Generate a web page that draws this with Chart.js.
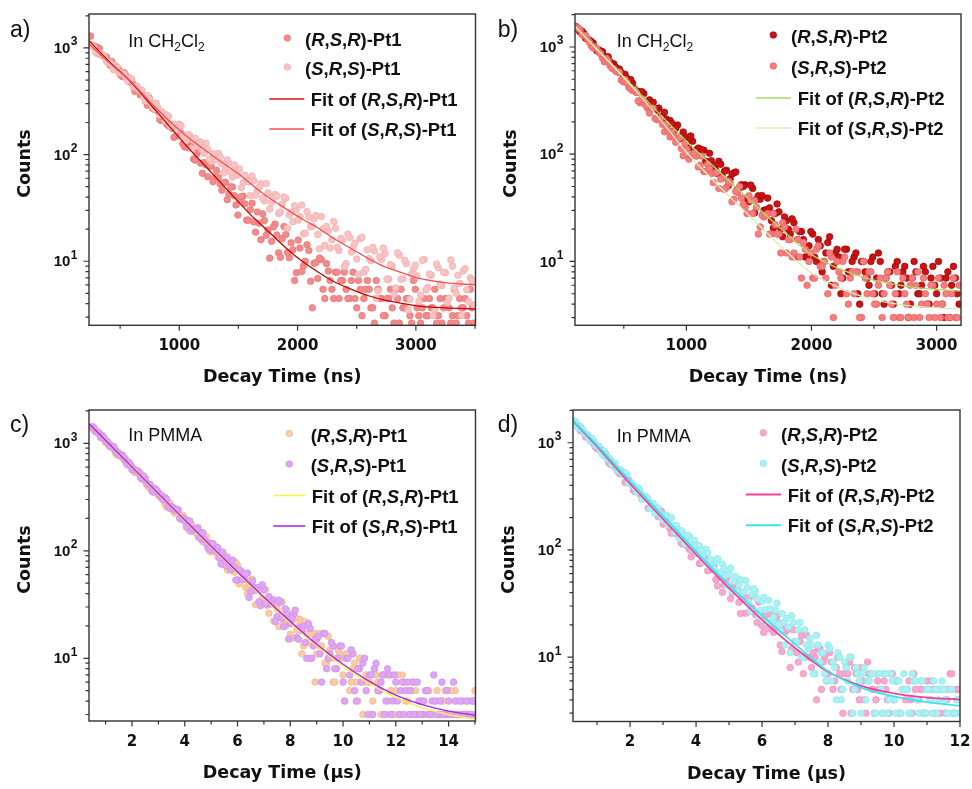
<!DOCTYPE html>
<html>
<head>
<meta charset="utf-8">
<script src="https://cdn.jsdelivr.net/npm/chart.js@4.4.1/dist/chart.umd.min.js"></script>
<style>
  body { margin: 0; background: #fff; }
  #wrap { position: relative; width: 972px; height: 789px; background: #fff; }
  canvas { position: absolute; }
</style>
</head>
<body>
<div id="wrap">
  <canvas id="chartA" width="486" height="395" style="left:0;top:0"></canvas>
  <canvas id="chartB" width="486" height="395" style="left:486px;top:0"></canvas>
  <canvas id="chartC" width="486" height="394" style="left:0;top:395px"></canvas>
  <canvas id="chartD" width="486" height="394" style="left:486px;top:395px"></canvas>
</div>
<script>
// ---- panel a: Pt1 in CH2Cl2 (ns) ----
const tA = [250,280,310,340,370,400,430,460,490,520,550,580,610,640,670,700,730,760,790,820,
  850,880,910,940,970,1000,1030,1060,1090,1120,1150,1180,1210,1240,1270,1300,1330,1360,1390,1420,
  1450,1480,1510,1540,1570,1600,1630,1660,1690,1720,1750,1780,1810,1840,1870,1900,1930,1960,1990,2020,
  2050,2080,2110,2140,2170,2200,2230,2260,2290,2320,2350,2380,2410,2440,2470,2500,2530,2560,2590,2620,
  2650,2680,2710,2740,2770,2800,2830,2860,2890,2920,2950,2980,3010,3040,3070,3100,3130,3160,3190,3220,
  3250,3280,3310,3340,3370,3400,3430,3460,3490];
const rsrA = [1290,1040,1006,864,830,741,747,652,623,538,549,481,453,436,362,356,290,306,266,254,
  208,225,185,176,148,157,126,125,129,91,102,83,84,62,78,61,61,46.4,55,42.8,
  49.7,33.7,37.4,40.7,24.3,30.4,23.4,29,15.9,24.1,19.6,15.4,22.3,12,16.3,17.8,10.8,12.8,7.8,13.3,
  9.0,14.3,6.5,9.6,6.9,10.4,4.47,8.1,5.46,7.9,4.47,6.6,5.46,4.47,7.9,3.66,5.46,4.47,6.6,3.66,
  2.63,5.46,4.47,3.09,4.47,3.66,5.46,2.63,3.66,4.47,3.09,6.6,3.66,2.63,4.47,3.09,3.66,5.46,3.09,2.63,
  4.47,3.66,3.09,2.63,4.47,3.66,3.09,5.46,2.63];
const srsA = [1080,1013,879,859,818,724,690,683,584,577,524,522,427,436,395,346,357,303,267,274,
  253,208,228,192,186,193,152,136,150,136,120,131,103,112,86,97.9,103,82.2,74.6,83.9,
  61.8,72.1,73.4,54.6,58,41.4,56.9,45.9,53.3,36.8,43.8,35.5,42.2,28,34.4,38.9,27,23.5,30.6,26.2,
  18.1,29.2,21,25.1,17.8,26.3,14.1,19.2,15.9,20.4,12.6,15.7,9.5,16.7,13.5,10.5,16.3,7.9,12.8,10.1,
  12.5,5.3,10.4,11.8,6.8,9.0,5.6,11.4,6.9,9.5,4.4,8.5,7.3,4.8,10.4,5.7,7.4,3.5,8.7,5.9,
  7.8,4.5,9.0,5.0,6.2,8.1,5.4,7.0,3.9];
const tA2 = [265,295,325,355,385,415,445,475,505,535,565,595,625,655,685,715,745,775,805,835,
  865,895,925,955,985,1015,1045,1075,1105,1135,1165,1195,1225,1255,1285,1315,1345,1375,1405,1435,
  1465,1495,1525,1555,1585,1615,1645,1675,1705,1735,1765,1795,1825,1855,1885,1915,1945,1975,2005,2035,
  2065,2095,2125,2155,2185,2215,2245,2275,2305,2335,2365,2395,2425,2455,2485,2515,2545,2575,2605,2635,
  2665,2695,2725,2755,2785,2815,2845,2875,2905,2935,2965,2995,3025,3055,3085,3115,3145,3175,3205,3235,
  3265,3295,3325,3355,3385,3415,3445,3475];
const rsrA2 = [1056,1021,987,839,820,687,685,654,558,586,504,496,391,406,363,316,341,271,266,213,
  234,192,193,145,154,159,118,116,119,88.6,109.6,66.9,80.4,77.6,55.6,71.1,53.1,54.5,37.8,49.8,
  41.2,27.1,40.4,34.6,24.3,35,18.7,22.8,27.8,17.5,10.7,21,17.6,10.9,21.2,12.1,14.9,6.6,15.8,8.0,
  10,12.6,3.66,9.7,10.7,5.46,9.5,6.6,4.47,7.9,6.6,7.9,4.47,6.6,4.47,6.6,3.09,5.46,5.46,3.66,
  6.6,4.47,3.09,4.47,5.46,2.63,4.47,5.46,3.66,4.47,2.63,5.46,3.09,3.66,3.09,4.47,3.66,2.63,4.47,3.66,
  4.47,2.63,5.46,3.09,3.66,4.47,2.63,3.66];
const srsA2 = [1051,909,890,860,747,730,623,656,583,567,491,515,433,407,401,318,332,282,305,235,
  242,235,184,193,171,186,144,154,114,142,125,111,128,90,102,89,95.5,67.2,89.5,68.4,
  79.8,64.2,48.9,64.1,55.7,62.9,41.6,49.4,39,53.5,30.9,39.5,40.7,29,40,20.4,29,33.1,24.3,33.6,
  18.3,26,21.3,26.8,13.1,20.1,21.2,13.3,23.6,13.5,16.4,8.9,18,12.2,14.8,7.5,16.8,8.4,10.6,13.5,
  4.5,11,13.3,6.8,9.3,4.9,12,6.8,10.2,3.5,7.6,9.2,4.2,10.2,5.4,7.6,3.09,9.4,6.1,7.9,
  4.1,10.3,5.6,7.4,3.1,8.5,4.2,6.6];
const fitTA_R = [237,400,577,800,1057,1250,1423,1600,1733,1900,2014,2183,2300,2466,2600,2747,2900,3029,3250,3504];
const fitA_R = [1170,760,497,260,122,72,44.6,27.5,20,13.4,10.5,7.8,6.5,5.4,4.75,4.3,4.0,3.8,3.66,3.58];
const fitTA_S = [237,400,577,800,1057,1200,1338,1500,1620,1750,1902,2050,2183,2300,2466,2600,2747,2900,3029,3250,3504];
const fitA_S = [1090,740,500,275,150,114,88,66,51.5,40,31,24.5,20.2,16.5,12.9,10.6,8.8,7.7,6.9,6.3,6.0];

// ---- panel b: Pt2 in CH2Cl2 (ns) ----
const tB = [120,150,180,210,240,270,300,330,360,390,420,450,480,510,540,570,600,630,660,690,
  720,750,780,810,840,870,900,930,960,990,1020,1050,1080,1110,1140,1170,1200,1230,1260,1290,
  1320,1350,1380,1410,1440,1470,1500,1530,1560,1590,1620,1650,1680,1710,1740,1770,1800,1830,1860,1890,
  1920,1950,1980,2010,2040,2070,2100,2130,2160,2190,2220,2250,2280,2310,2340,2370,2400,2430,2460,2490,
  2520,2550,2580,2610,2640,2670,2700,2730,2760,2790,2820,2850,2880,2910,2940,2970,3000,3030,3060,3090,
  3120,3150,3180];
const rsrB = [1546,1380,1338,1185,1121,976,940,904,775,727,696,594,577,555,473,460,382,378,367,307,
  304,269,269,216,213,206,165,187,148,145,114,132,110,112,109,84,87,74,86,61,
  71,59,67,47,52,52,36,48,38,38,30,39,24,28,29,17,24,18,23,16,
  19,11,14,18,10,14,10,15,6,12,11,7,13,8,11,5,10,8,6,11,
  7,10,4,8,6,9,5,8,7,4,10,5,6,8,4,9,5,7,3,8,
  6,7,4];
const srsB = [1517,1444,1277,1189,1027,1002,895,789,783,669,627,583,492,498,421,393,376,301,309,268,
  267,216,214,189,190,145,147,139,113,126,90,98,96,79,69,80,66,67,48,60,
  49,54,38,44,39,32,41,28,32,21,26,28,18,22,18,23,12,16,12,16,
  7,13,10,7,13,9,10,5,11,6,8,10,5,7,5,8,3,7,8,5,
  4,7,5,8,4,5,3,7,4,6,3,8,4,5,3,6,4,3,6,3,
  5,3,6];
const tB2 = [135,165,195,225,255,285,315,345,375,405,435,465,495,525,555,585,615,645,675,705,
  735,765,795,825,855,885,915,945,975,1005,1035,1065,1095,1125,1155,1185,1215,1245,1275,1305,
  1335,1365,1395,1425,1455,1485,1515,1545,1575,1605,1635,1665,1695,1725,1755,1785,1815,1845,1875,1905,
  1935,1965,1995,2025,2055,2085,2115,2145,2175,2205,2235,2265,2295,2325,2355,2385,2415,2445,2475,2505,
  2535,2565,2595,2625,2655,2685,2715,2745,2775,2805,2835,2865,2895,2925,2955,2985,3015,3045,3075,3105,
  3135,3165];
const rsrB2 = [1450,1405,1204,1160,1087,920,915,821,810,679,645,622,513,510,497,408,386,383,298,321,
  305,257,224,246,194,194,175,139,161,129,148,104,114,110,86,102,78.9,66.5,80.5,69.5,
  50.9,65.4,68.3,48.5,50,39,51.5,28.4,41,41.2,30.3,31.6,20.5,34.4,20,26,20,25,11,19,
  16,11,19,11,16,8,12,17,9,13,5,13,8,10,12,4,10,7,10,5,
  12,5,7,8,4,10,6,9,3,7,8,5,9,4,7,6,10,4,7,3,
  9,5];
const srsB2 = [1498,1306,1281,1111,980,962,865,727,742,632,595,580,474,462,404,401,314,327,286,242,
  269,210,214,162,168,161,129,142,97,111,96.7,103,76.1,96.1,69,72.9,54.4,67.7,58.5,47,
  56,36,45,50,34,28,37,37,18,27,27,18,28,18,12,21,16,11,20,11,
  15,6,12,7,14,9,7,12,3,10,7,11,4,8,8,3,10,5,8,4,
  6,3,7,6,3,8,3,5,3,7,6,3,7,4,6,3,7,4,5,3,
  7,3];
const fitTB = [110,250,400,600,800,1000,1250,1500,1750,2000,2250,2500,2750,3000,3200];
const fitB_R = [1560,1058,697,400,229,132,71,38,20.5,11.6,8.3,6.7,5.9,5.5,5.3];
const fitB_S = [1560,1050,690,385,205,105,52,27,14,7.8,5.5,4.4,3.9,3.7,3.6];

// ---- panel c: Pt1 in PMMA (us) ----
const tC = [0.5,0.625,0.75,0.875,1,1.125,1.25,1.375,1.5,1.625,1.75,1.875,2,2.125,2.25,2.375,2.5,2.625,2.75,2.875,
  3,3.125,3.25,3.375,3.5,3.625,3.75,3.875,4,4.125,4.25,4.375,4.5,4.625,4.75,4.875,5,5.125,5.25,5.375,
  5.5,5.625,5.75,5.875,6,6.125,6.25,6.375,6.5,6.625,6.75,6.875,7,7.125,7.25,7.375,7.5,7.625,7.75,7.875,
  8,8.125,8.25,8.375,8.5,8.625,8.75,8.875,9,9.125,9.25,9.375,9.5,9.625,9.75,9.875,10,10.125,10.25,10.375,
  10.5,10.625,10.75,10.875,11,11.125,11.25,11.375,11.5,11.625,11.75,11.875,12,12.125,12.25,12.375,12.5,12.625,12.75,12.875,
  13,13.125,13.25,13.375,13.5,13.625,13.75,13.875,14,14.125,14.25,14.375,14.5,14.625,14.75,14.875,15];
const rsrC = [1374,1315,1249,1117,1017,996,916,807,815,732,718,622,601,532,549,475,461,391,389,375,
  327,331,272,278,252,223,237,198,198,160,177,157,135,149,122,121,97.6,111.6,87.8,89,
  86.6,66,78,63.2,73,52.5,54.6,39.7,53.7,42.4,44,32.5,43.2,31.1,35.7,22.2,28.9,25.6,21,27.7,
  16.7,23,18.3,23,13,17,10,17,11,13,17,9,12,6,10,11,7,11,5,8,
  6,10,3,7,6,4,7,5,7,3,7,3,5,3,7,4,5,3,5,3,
  4,3,5,3,4,3,4,5,3,3,5,3,3,3,4,3,5];
const srsC = [1429,1280,1229,1179,1047,952,940,859,780,780,686,666,568,565,534,467,471,417,361,379,
  347,307,313,258,258,237,240,196,189,191,152,161,164,128,127,107,117,100,107,75.4,
  85,86,66.5,70,53.5,65,54.2,62,41.6,45.9,45.5,30.8,43.7,31.9,32,34.9,24.4,33,19.7,25.5,
  21,25.8,15.7,19.4,19.9,10,19,13,15,11,17,8,11,13,8,13,6,10,7,11,
  4,8,9,5,7,3,9,5,7,4,7,4,6,3,6,5,3,6,3,4,
  3,5,3,4,4,3,6,3,4,3,4,3,4,3,3,4,3];
const tC2 = [0.5625,0.6875,0.8125,0.9375,1.0625,1.1875,1.3125,1.4375,1.5625,1.6875,
  1.8125,1.9375,2.0625,2.1875,2.3125,2.4375,2.5625,2.6875,2.8125,2.9375,
  3.0625,3.1875,3.3125,3.4375,3.5625,3.6875,3.8125,3.9375,4.0625,4.1875,
  4.3125,4.4375,4.5625,4.6875,4.8125,4.9375,5.0625,5.1875,5.3125,5.4375,
  5.5625,5.6875,5.8125,5.9375,6.0625,6.1875,6.3125,6.4375,6.5625,6.6875,
  6.8125,6.9375,7.0625,7.1875,7.3125,7.4375,7.5625,7.6875,7.8125,7.9375,
  8.0625,8.1875,8.3125,8.4375,8.5625,8.6875,8.8125,8.9375,9.0625,9.1875,
  9.3125,9.4375,9.5625,9.6875,9.8125,9.9375,10.0625,10.1875,10.3125,10.4375,
  10.5625,10.6875,10.8125,10.9375,11.0625,11.1875,11.3125,11.4375,11.5625,11.6875,
  11.8125,11.9375,12.0625,12.1875,12.3125,12.4375,12.5625,12.6875,12.8125,12.9375,
  13.0625,13.1875,13.3125,13.4375,13.5625,13.6875,13.8125,13.9375,14.0625,14.1875,
  14.3125,14.4375,14.5625,14.6875,14.8125,14.9375];
const rsrC2 = [1330,1276,1127,1095,1045,919,877,777,776,710,644,636,548,538,525,456,411,411,350,364,
  323,309,256,278,236,237,200,214,186,154,164,147,149,121,135,100,108,104.7,86.6,74.5,
  88.8,68.7,70.3,77.6,49.1,61.7,45.6,48.8,54.3,31.5,43.7,35.7,43.7,26.2,32.2,32.9,19.7,33.6,20,22.4,
  15.3,24,20,11,22,14,17,6,17,13,9,16,10,6,12,10,4,11,6,9,
  4,10,6,6,3,8,6,3,7,4,5,3,7,3,6,4,3,6,3,4,
  3,5,3,3,5,3,4,3,5,3,4,3,3,4,3,4];
const srsC2 = [1383,1256,1141,1128,1029,931,926,814,769,742,636,633,574,558,482,497,422,411,352,365,
  330,296,302,248,252,243,201,202,167,189,160,157,132,147,118,103,116.7,98.5,85.5,97.4,
  72.6,77.6,82,53.5,66.2,54.8,61.5,36.7,52.4,43.1,33.6,48.3,32.5,37.6,32.4,22,34.7,23.4,28.9,15.1,
  23.6,28,15,18,14,21,10,15,16,6,17,10,14,8,10,13,4,10,12,5,
  8,6,10,3,7,8,5,6,3,8,3,7,4,5,3,6,5,3,6,3,
  4,5,3,7,3,4,3,5,3,6,3,4,3,4,3,4];
const fitTC = [0.38,1,2,3,4,5,6,7,8,9,10,11,12,13,14,15];
const fitC_R = [1500,1050,594,336,190,108,62,36,21.3,13,8.4,5.8,4.3,3.45,3.0,2.72];
const fitC_S = [1510,1060,600,340,193,110,63.5,37,22,13.5,8.8,6.1,4.55,3.7,3.23,2.95];

// ---- panel d: Pt2 in PMMA (us) ----
const tD = [0.3,0.4,0.5,0.6,0.7,0.8,0.9,1.0,1.1,1.2,1.3,1.4,1.5,1.6,1.7,1.8,1.9,2.0,2.1,2.2,
  2.3,2.4,2.5,2.6,2.7,2.8,2.9,3.0,3.1,3.2,3.3,3.4,3.5,3.6,3.7,3.8,3.9,4.0,4.1,4.2,
  4.3,4.4,4.5,4.6,4.7,4.8,4.9,5.0,5.1,5.2,5.3,5.4,5.5,5.6,5.7,5.8,5.9,6.0,6.1,6.2,
  6.3,6.4,6.5,6.6,6.7,6.8,6.9,7.0,7.1,7.2,7.3,7.4,7.5,7.6,7.7,7.8,7.9,8.0,8.1,8.2,
  8.3,8.4,8.5,8.6,8.7,8.8,8.9,9.0,9.1,9.2,9.3,9.4,9.5,9.6,9.7,9.8,9.9,10.0,10.1,10.2,
  10.3,10.4,10.5,10.6,10.7,10.8,10.9,11.0,11.1,11.2,11.3,11.4,11.5,11.6,11.7,11.8,11.9,12.0];
const rsrD = [1544,1473,1295,1245,1183,1037,977,877,877,768,729,628,629,568,512,507,431,423,361,374,
  334,301,306,247,253,224,213,174,195,159,164,141,138,113,130,101,98,97.7,74.5,80.5,
  80.9,64.7,73.7,52.8,55.5,40.2,51.5,46,40.1,45.2,32.5,37.4,25.7,35,28.8,25,32.6,19.6,24,18.4,
  24.9,18.4,20.6,11.3,17.2,18.2,11.9,14,9,16,10,13,8,10,12,5,10,7,9,6,
  10,5,7,7,3,8,5,8,4,9,7,3,6,5,6,4,7,4,6,3,
  5,5,4,7,4,5,3,6,4,5,5,3,5,4,7,3,5,4];
const srsD = [1600,1440,1408,1249,1189,1035,1032,928,841,840,708,695,635,553,562,497,504,415,405,346,
  361,307,305,243,272,230,220,191,212,172,168,169,128,143,124,133,101,112,109,88,
  101.5,70.7,78.7,78,60.6,73.9,57.6,59.5,41.3,56.2,47.2,39.6,51.7,32.6,38.4,41,24.5,33.3,27.6,33.9,
  21.2,27.4,20.2,25.5,13,19.1,24.4,14,18,10,18,12,13,7,13,11,7,13,6,8,
  11,4,9,6,10,5,7,3,8,6,7,3,7,5,7,3,7,4,6,3,
  7,5,3,6,4,6,3,5,4,6,3,5,5,3,5,3,4,3];
const tD2 = [0.35,0.45,0.55,0.65,0.75,0.85,0.95,1.05,1.15,1.25,1.35,1.45,1.55,1.65,1.75,1.85,1.95,2.05,2.15,2.25,
  2.35,2.45,2.55,2.65,2.75,2.85,2.95,3.05,3.15,3.25,3.35,3.45,3.55,3.65,3.75,3.85,3.95,4.05,4.15,4.25,
  4.35,4.45,4.55,4.65,4.75,4.85,4.95,5.05,5.15,5.25,5.35,5.45,5.55,5.65,5.75,5.85,5.95,6.05,6.15,6.25,
  6.35,6.45,6.55,6.65,6.75,6.85,6.95,7.05,7.15,7.25,7.35,7.45,7.55,7.65,7.75,7.85,7.95,8.05,8.15,8.25,
  8.35,8.45,8.55,8.65,8.75,8.85,8.95,9.05,9.15,9.25,9.35,9.45,9.55,9.65,9.75,9.85,9.95,10.05,10.15,10.25,
  10.35,10.45,10.55,10.65,10.75,10.85,10.95,11.05,11.15,11.25,11.35,11.45,11.55,11.65,11.75,11.85,11.95];
const rsrD2 = [1547,1364,1293,1134,1125,1058,908,880,801,795,655,654,589,527,539,427,450,410,349,369,
  311,313,245,257,247,204,229,180,175,143,163,143,116,132,107,86.2,103,92.6,75.7,90.6,
  64,68.7,71.1,46.1,57.5,47.3,56.2,35.1,43.5,44.2,25.5,34.3,35.9,26.9,37.5,21,26,17,27.4,20.6,
  17,24,13,18,19,8,18,11,14,7,16,10,11,4,12,9,6,11,5,8,
  7,3,8,9,5,7,4,6,3,7,5,4,5,3,5,3,7,6,3,5,
  4,6,3,5,4,5,3,5,6,3,5,5,3,5,7,3,5];
const srsD2 = [1550,1366,1345,1220,1099,1095,952,928,782,773,726,630,643,551,522,523,422,422,378,380,
  297,318,299,251,219,246,205,205,174,200,147,155,151,114,137,112,123,94.1,99.4,77.4,
  93.8,81.4,66.4,82.7,62.2,66.5,46.8,67.6,51,40.7,52.9,40.6,44.6,27,43.6,35.1,27.3,36.1,21.2,28.2,
  23.4,31.9,17.6,21.1,23,11,21,14,21,10,13,15,7,16,9,11,6,12,9,4,
  10,5,8,10,3,8,6,7,4,6,7,3,7,3,7,4,6,3,6,5,
  5,3,7,6,3,6,3,5,3,5,4,6,4,3,5,3,4];
const fitTD = [0.27,1,2,3,4,5,6,7,8,9,10,11,12];
const fitD_R = [1600,920,415,194,91,44,22.3,12.2,7.3,5.4,4.6,4.2,4.02];
const fitD_S = [1620,950,440,208,97,47,24.4,13.2,7.4,5.2,4.3,3.8,3.52];

// ---- shared tick values / labels ----
const yMajorTicks = [10, 100, 1000];
const yMajorExp = ['1', '2', '3'];
const yMinorTicks = [3,4,5,6,7,8,9,20,30,40,50,60,70,80,90,200,300,400,500,600,700,800,900,2000];
const nsMajor = [1000, 2000, 3000];
const nsMinor = [500, 1500, 2500, 3500];
const usMajorC = [2,4,6,8,10,12,14];
const usMinorC = [1,3,5,7,9,11,13,15];
const usMajorD = [2,4,6,8,10,12];
const usMinorD = [1,3,5,7,9,11];

const WIDE = '"DejaVu Sans", sans-serif';
const ARIAL = '"Liberation Sans", Arial, sans-serif';
const INK = '#111';
const AXIS = '#333';

function xy(t, v) { return t.map((x, i) => ({ x: x, y: v[i] })); }

// '*' toggles italic, '_' makes the next char a subscript
function drawRich(ctx, str, x, y, size, bold) {
  let cx = x, italic = false, i = 0;
  const w = bold ? 'bold ' : '';
  while (i < str.length) {
    const ch = str[i];
    if (ch === '*') { italic = !italic; i++; continue; }
    let txt, dy = 0;
    if (ch === '_') {
      txt = str[i + 1]; i += 2; dy = size * 0.26;
      ctx.font = w + Math.round(size * 0.66) + 'px ' + ARIAL;
    } else {
      txt = ch; i++;
      ctx.font = (italic ? 'italic ' : '') + w + size + 'px ' + ARIAL;
    }
    ctx.fillText(txt, cx, y + dy);
    cx += ctx.measureText(txt).width;
  }
}

function makeDecor(p) {
  return {
    id: 'decor' + p.letter[0],
    afterDatasetsDraw(chart) {
      const { ctx, chartArea: ca } = chart;
      const sx = chart.scales.x, sy = chart.scales.y;
      ctx.save();
      // frame
      ctx.strokeStyle = AXIS;
      ctx.lineWidth = 1.4;
      ctx.strokeRect(ca.left, ca.top, ca.right - ca.left, ca.bottom - ca.top);
      // tick marks, outward
      ctx.lineWidth = 1.2;
      ctx.beginPath();
      p.xMajor.forEach(v => { const px = sx.getPixelForValue(v); ctx.moveTo(px, ca.bottom); ctx.lineTo(px, ca.bottom + 5.5); });
      p.xMinor.forEach(v => {
        if (v < p.xMin || v > p.xMax) return;
        const px = sx.getPixelForValue(v); ctx.moveTo(px, ca.bottom); ctx.lineTo(px, ca.bottom + 3.5);
      });
      yMajorTicks.forEach(v => { const py = sy.getPixelForValue(v); ctx.moveTo(ca.left, py); ctx.lineTo(ca.left - 5.5, py); });
      yMinorTicks.forEach(v => {
        if (v < p.yMin || v > p.yMax) return;
        const py = sy.getPixelForValue(v); ctx.moveTo(ca.left, py); ctx.lineTo(ca.left - 3.5, py);
      });
      ctx.stroke();

      ctx.fillStyle = INK;
      // x tick labels
      ctx.textAlign = 'center';
      ctx.textBaseline = 'middle';
      ctx.font = 'bold 15px ' + WIDE;
      p.xMajor.forEach(v => ctx.fillText(String(v), sx.getPixelForValue(v), ca.bottom + 21));
      // y tick labels 10^n
      ctx.textAlign = 'right';
      ctx.textBaseline = 'alphabetic';
      yMajorTicks.forEach((v, i) => {
        const py = sy.getPixelForValue(v);
        const r = ca.left - 11.5;
        ctx.font = 'bold 12px ' + ARIAL;
        ctx.fillText(yMajorExp[i], r, py - 2.5);
        const w = ctx.measureText(yMajorExp[i]).width;
        ctx.font = 'bold 15px ' + ARIAL;
        ctx.fillText('10', r - w - 0.5, py + 5.2);
      });
      // axis titles
      ctx.textAlign = 'center';
      ctx.textBaseline = 'middle';
      ctx.font = 'bold 17.5px ' + WIDE;
      ctx.fillText(p.xTitle, (ca.left + ca.right) / 2, ca.bottom + 52.5);
      ctx.save();
      ctx.translate(ca.left - 64, ca.top + 149.5);
      ctx.rotate(-Math.PI / 2);
      ctx.fillText('Counts', 0, 0);
      ctx.restore();
      // panel letter
      ctx.textAlign = 'left';
      ctx.textBaseline = 'alphabetic';
      ctx.font = '23px ' + ARIAL;
      ctx.fillText(p.letter, p.letterX, p.letterY);
      // solvent note
      drawRich(ctx, p.note, ca.left + p.noteDX, ca.top + p.noteDY, 18, false);
      // legend
      const lg = p.legend;
      p.entries.forEach((e, i) => {
        const ry = lg.rows[i];
        if (e.kind === 'dot') {
          ctx.beginPath();
          ctx.arc(lg.dotX, ry - 1.5, 3.3, 0, Math.PI * 2);
          ctx.fillStyle = e.color; ctx.fill();
          ctx.lineWidth = 0.7; ctx.strokeStyle = e.edge; ctx.stroke();
          ctx.fillStyle = INK;
          drawRich(ctx, e.label, lg.dotTextX, ry + 6.6, 18.5, true);
        } else {
          ctx.beginPath();
          ctx.moveTo(lg.lineX, ry - 0.5); ctx.lineTo(lg.lineX + lg.lineLen, ry - 0.5);
          ctx.strokeStyle = e.color; ctx.lineWidth = p.fitWidth + 0.2; ctx.stroke();
          ctx.fillStyle = INK;
          drawRich(ctx, e.label, lg.lineTextX, ry + 6.6, 18.5, true);
        }
      });
      ctx.restore();
    }
  };
}

function buildPanel(id, p) {
  const dot = (pts, c, edge, order) => ({
    data: pts, showLine: false, pointRadius: 3.3, pointHoverRadius: 3.3,
    pointBackgroundColor: c, pointBorderColor: edge, pointBorderWidth: 0.7, order: order
  });
  const fit = (t, v, c, order) => ({
    data: xy(t, v), showLine: true, pointRadius: 0, borderColor: c, borderWidth: p.fitWidth,
    cubicInterpolationMode: 'monotone', fill: false, order: order
  });
  new Chart(document.getElementById(id), {
    type: 'scatter',
    data: {
      datasets: [
        fit(p.fitT_S, p.fit_S, p.fitColor_S, 0),
        fit(p.fitT_R, p.fit_R, p.fitColor_R, 0.5),
        dot(xy(p.t, p.srs).concat(xy(p.t2, p.srs2)), p.dot_S, p.edge_S, 1),
        dot(xy(p.t, p.rsr).concat(xy(p.t2, p.rsr2)), p.dot_R, p.edge_R, 2)
      ]
    },
    options: {
      responsive: false,
      animation: false,
      devicePixelRatio: 1,
      events: [],
      layout: { padding: p.pad },
      scales: {
        x: { type: 'linear', min: p.xMin, max: p.xMax, display: false },
        y: { type: 'logarithmic', min: p.yMin, max: p.yMax, display: false }
      },
      plugins: { legend: { display: false }, tooltip: { enabled: false } }
    },
    plugins: [makeDecor(p)]
  });
}

buildPanel('chartA', {
  letter: 'a)', letterX: 10, letterY: 36.5,
  t: tA, rsr: rsrA, srs: srsA, t2: tA2, rsr2: rsrA2, srs2: srsA2,
  fitT_R: fitTA_R, fit_R: fitA_R, fitT_S: fitTA_S, fit_S: fitA_S,
  dot_R: '#F28C8C', edge_R: '#E57575', dot_S: '#F9C4C4', edge_S: '#F1ADAD',
  fitColor_R: '#C80000', fitColor_S: '#F25252', fitWidth: 1.3,
  xMin: 237, xMax: 3504, yMin: 2.51, yMax: 2080,
  xMajor: nsMajor, xMinor: nsMinor, xTitle: 'Decay Time (ns)',
  pad: { left: 89, top: 14, right: 10.5, bottom: 69.7 },
  note: 'In CH_2Cl_2', noteDX: 39.3, noteDY: 32.7,
  legend: { rows: [39.5, 68.5, 99.5, 129.5], lineX: 269.3, lineLen: 35, dotX: 287.3, dotTextX: 305, lineTextX: 310.7 },
  entries: [
    { kind: 'dot', color: '#F28C8C', edge: '#E57575', label: '(*R*,*S*,*R*)-Pt1' },
    { kind: 'dot', color: '#F9C4C4', edge: '#F1ADAD', label: '(*S*,*R*,*S*)-Pt1' },
    { kind: 'line', color: '#D81010', label: 'Fit of (*R*,*S*,*R*)-Pt1' },
    { kind: 'line', color: '#F25252', label: 'Fit of (*S*,*R*,*S*)-Pt1' }
  ]
});

buildPanel('chartB', {
  letter: 'b)', letterX: 11.7, letterY: 36.5,
  t: tB, rsr: rsrB, srs: srsB, t2: tB2, rsr2: rsrB2, srs2: srsB2,
  fitT_R: fitTB, fit_R: fitB_R, fitT_S: fitTB, fit_S: fitB_S,
  dot_R: '#C81414', edge_R: '#A00000', dot_S: '#F67E7E', edge_S: '#E86262',
  fitColor_R: '#A8DC64', fitColor_S: '#D6EFB8', fitWidth: 1.3,
  xMin: 110, xMax: 3195, yMin: 2.54, yMax: 2030,
  xMajor: nsMajor, xMinor: nsMinor, xTitle: 'Decay Time (ns)',
  pad: { left: 89, top: 14, right: 11, bottom: 69.7 },
  note: 'In CH_2Cl_2', noteDX: 41.7, noteDY: 32.7,
  legend: { rows: [36.5, 67.5, 98.5, 128.5], lineX: 270, lineLen: 35, dotX: 287.3, dotTextX: 305, lineTextX: 311.7 },
  entries: [
    { kind: 'dot', color: '#C81414', edge: '#A00000', label: '(*R*,*S*,*R*)-Pt2' },
    { kind: 'dot', color: '#F67E7E', edge: '#E86262', label: '(*S*,*R*,*S*)-Pt2' },
    { kind: 'line', color: '#A8DC64', label: 'Fit of (*R*,*S*,*R*)-Pt2' },
    { kind: 'line', color: '#D6EFB8', label: 'Fit of (*S*,*R*,*S*)-Pt2' }
  ]
});

buildPanel('chartC', {
  letter: 'c)', letterX: 10, letterY: 37,
  t: tC, rsr: rsrC, srs: srsC, t2: tC2, rsr2: rsrC2, srs2: srsC2,
  fitT_R: fitTC, fit_R: fitC_R, fitT_S: fitTC, fit_S: fitC_S,
  dot_R: '#F9CBA6', edge_R: '#F0B98F', dot_S: '#DEA6F4', edge_S: '#CF8FEB',
  fitColor_R: '#F2F24A', fitColor_S: '#B41EDE', fitWidth: 1.3,
  xMin: 0.37, xMax: 15.02, yMin: 2.61, yMax: 2040,
  xMajor: usMajorC, xMinor: usMinorC, xTitle: 'Decay Time (\u03BCs)',
  pad: { left: 89, top: 15, right: 10.5, bottom: 68 },
  note: 'In PMMA', noteDX: 39.3, noteDY: 31,
  legend: { rows: [40, 70.5, 101, 131.5], lineX: 273.3, lineLen: 32, dotX: 289.3, dotTextX: 310.7, lineTextX: 311.7 },
  entries: [
    { kind: 'dot', color: '#F9CBA6', edge: '#F0B98F', label: '(*R*,*S*,*R*)-Pt1' },
    { kind: 'dot', color: '#DEA6F4', edge: '#CF8FEB', label: '(*S*,*R*,*S*)-Pt1' },
    { kind: 'line', color: '#F2F24A', label: 'Fit of (*R*,*S*,*R*)-Pt1' },
    { kind: 'line', color: '#B41EDE', label: 'Fit of (*S*,*R*,*S*)-Pt1' }
  ]
});

buildPanel('chartD', {
  letter: 'd)', letterX: 11.7, letterY: 37,
  t: tD, rsr: rsrD, srs: srsD, t2: tD2, rsr2: rsrD2, srs2: srsD2,
  fitT_R: fitTD, fit_R: fitD_R, fitT_S: fitTD, fit_S: fitD_S,
  dot_R: '#F7A9CF', edge_R: '#EE91BF', dot_S: '#A9F2F4', edge_S: '#8FE6EA',
  fitColor_R: '#F2409A', fitColor_S: '#38E4EE', fitWidth: 1.7,
  xMin: 0.27, xMax: 12.0, yMin: 2.51, yMax: 2020,
  xMajor: usMajorD, xMinor: usMinorD, xTitle: 'Decay Time (\u03BCs)',
  pad: { left: 87, top: 15, right: 12, bottom: 67.5 },
  note: 'In PMMA', noteDX: 43.7, noteDY: 31.7,
  legend: { rows: [39.3, 70, 100, 130.7], lineX: 260, lineLen: 35, dotX: 277.3, dotTextX: 295, lineTextX: 301.7 },
  entries: [
    { kind: 'dot', color: '#F7A9CF', edge: '#EE91BF', label: '(*R*,*S*,*R*)-Pt2' },
    { kind: 'dot', color: '#A9F2F4', edge: '#8FE6EA', label: '(*S*,*R*,*S*)-Pt2' },
    { kind: 'line', color: '#F2409A', label: 'Fit of (*R*,*S*,*R*)-Pt2' },
    { kind: 'line', color: '#38E4EE', label: 'Fit of (*S*,*R*,*S*)-Pt2' }
  ]
});
</script>
</body>
</html>
